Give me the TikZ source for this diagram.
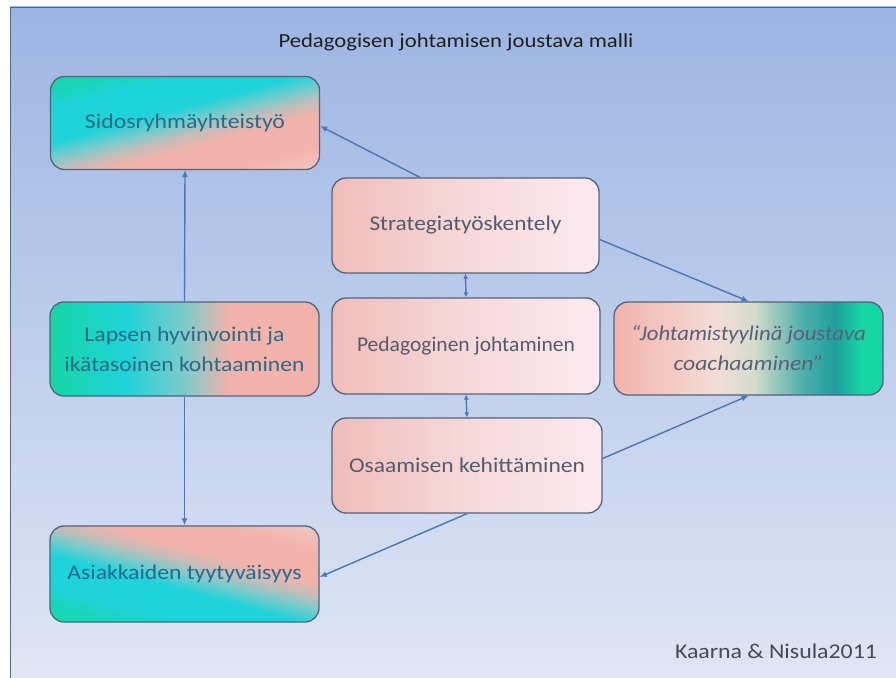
\documentclass[tikz,border=0pt]{standalone}
\usepackage{fontspec}
\setmainfont{Carlito}
\usepackage{graphicx}
\usetikzlibrary{arrows.meta,calc}

% colours
\definecolor{panelTop}{HTML}{9DB5E3}
\definecolor{panelBot}{HTML}{E0E7F4}
\definecolor{panelLine}{HTML}{5C6878}
\definecolor{boxLine}{HTML}{52637C}
\definecolor{arrowBlue}{HTML}{4B77B4}
\definecolor{tealText}{HTML}{2C6A86}
\definecolor{blueText}{HTML}{1F6B94}
\definecolor{greyText}{HTML}{545B6D}
\definecolor{italText}{HTML}{5A6078}
\definecolor{creditText}{HTML}{434A5A}
% gradient stops
\definecolor{gGreen}{HTML}{16D6A4}
\definecolor{gGreenCyan}{HTML}{1AD5C0}
\definecolor{gCyan}{HTML}{1FD3DA}
\definecolor{gCyanGrey}{HTML}{7CCBCC}
\definecolor{gGreyPink}{HTML}{C8BCB8}
\definecolor{gPink}{HTML}{F1B3AB}
\definecolor{gPinkLight}{HTML}{F4C6C2}
\definecolor{gPaleRose}{HTML}{F4DDD6}
\definecolor{gPaleGreen}{HTML}{D4DCCC}
\definecolor{gTealMid}{HTML}{4FB0AC}
\definecolor{gTealDark}{HTML}{1E9E9E}
\definecolor{rose1}{HTML}{F0BDB9}
\definecolor{rose2}{HTML}{F5D9D9}
\definecolor{rose3}{HTML}{FCEAF0}

% diagonal teal-to-pink gradient, laid on a 270pt square (see diagfill)
\pgfdeclarehorizontalshading{tealpinkdiag}{100bp}{%
  color(0bp)=(gGreen);
  color(35.3bp)=(gGreen);
  color(38.8bp)=(gGreenCyan);
  color(41.2bp)=(gCyan);
  color(47bp)=(gCyan);
  color(50bp)=(gCyanGrey);
  color(52.4bp)=(gGreyPink);
  color(54.7bp)=(gPink);
  color(60.3bp)=(gPink);
  color(64.8bp)=(gPinkLight);
  color(100bp)=(gPinkLight)}
% horizontal gradients (the central 25bp..75bp band is mapped onto the shape)
\pgfdeclarehorizontalshading{lapsenshade}{100bp}{%
  color(0bp)=(gGreen);
  color(25bp)=(gGreen);
  color(39bp)=(gCyan);
  color(50bp)=(gCyanGrey);
  color(58bp)=(gPink);
  color(75bp)=(gPink);
  color(100bp)=(gPink)}
\pgfdeclarehorizontalshading{coachshade}{100bp}{%
  color(0bp)=(gPink);
  color(25bp)=(gPink);
  color(44bp)=(gPaleRose);
  color(51bp)=(gPaleGreen);
  color(60bp)=(gTealMid);
  color(66bp)=(gTealDark);
  color(71bp)=(gGreen);
  color(75bp)=(gGreen);
  color(100bp)=(gGreen)}
\pgfdeclarehorizontalshading{pinkshade}{100bp}{%
  color(0bp)=(rose1);
  color(25bp)=(rose1);
  color(50bp)=(rose2);
  color(75bp)=(rose3);
  color(100bp)=(rose3)}

\newcommand\fitw[2]{\resizebox{#1}{\height}{#2}}

\tikzset{
  panel/.style={draw=panelLine, line width=0.9pt, top color=panelTop, bottom color=panelBot},
  card/.style={draw=boxLine, line width=1.3pt, rounded corners=14pt,
    inner sep=0pt, align=center, font=\fontsize{21}{30}\selectfont},
  % diagonal gradient: a square shaded at angle #1, clipped to the card
  diagfill/.style={path picture={
    \shade[shading=tealpinkdiag, shading angle=#1]
      ($(path picture bounding box.center)+(-135pt,-135pt)$) rectangle
      ($(path picture bounding box.center)+(135pt,135pt)$);}},
  flow/.style={draw=arrowBlue, line width=1.4pt, -{Latex[length=7pt,width=6pt]}},
  pair/.style={draw=arrowBlue, line width=1.4pt, {Latex[length=5pt,width=5pt]}-{Latex[length=5pt,width=5pt]}},
}

\begin{document}
\begin{tikzpicture}[x=1pt,y=-1pt]
  \useasboundingbox (0,0) rectangle (896,677);
  \fill[white] (0,0) rectangle (896,677);
  \path[panel] (10,7) rectangle (905,690);

  % heading and credit
  \node (title) at (456,42) {\fontsize{20}{24}\selectfont\color{black!88}\fitw{355pt}{Pedagogisen johtamisen joustava malli}};
  \node (credit) at (776,651) {\fontsize{21}{24}\selectfont\color{creditText}\fitw{202pt}{Kaarna \& Nisula2011}};

  % left column
  \node[card, diagfill=-75, minimum width=269pt, minimum height=93pt,
        text=tealText] (sidos) at (185,123) {\fitw{200pt}{Sidosryhmäyhteistyö}};
  \node[card, shading=lapsenshade, minimum width=269pt, minimum height=94pt,
        text=tealText] (lapsen) at (184.5,349) {\fitw{200pt}{Lapsen hyvinvointi ja}\\\fitw{240pt}{ikätasoinen kohtaaminen}};
  \node[card, diagfill=75, minimum width=269pt, minimum height=96pt,
        text=blueText] (asiak) at (184.5,574) {\fitw{234pt}{Asiakkaiden tyytyväisyys}};

  % middle column
  \node[card, shading=pinkshade, minimum width=267pt, minimum height=95pt,
        text=greyText] (strat) at (465.5,225.5) {\fitw{192pt}{Strategiatyöskentely}};
  \node[card, shading=pinkshade, minimum width=268pt, minimum height=96pt,
        text=greyText] (pedag) at (466,346) {\fitw{218pt}{Pedagoginen johtaminen}};
  \node[card, shading=pinkshade, minimum width=270pt, minimum height=95pt,
        text=greyText] (osaam) at (467,465.5) {\fitw{236pt}{Osaamisen kehittäminen}};

  % right column
  \node[card, shading=coachshade, minimum width=269pt, minimum height=93pt,
        text=italText, font=\fontsize{21}{30}\selectfont\itshape] (coach) at (748.5,348.5)
        {\fitw{235pt}{“Johtamistyylinä joustava}\\\fitw{150pt}{coachaaminen”}};

  % connectors
  \draw[flow] ($(strat.north west)!0.33!(strat.north east)$) -- ([yshift=-3pt]sidos.east);
  \draw[flow] ([yshift=-14pt]strat.east) -- (coach.north);
  \draw[flow] ([yshift=7pt]osaam.east) -- (coach.south);
  \draw[flow] (osaam.south) -- ([yshift=-3pt]asiak.east);
  \draw[flow] (lapsen.north) -- (sidos.south);
  \draw[flow] (lapsen.south) -- (asiak.north);
  \draw[pair] (strat.south) -- (pedag.north);
  \draw[pair] (pedag.south) -- (osaam.north);
\end{tikzpicture}
\end{document}
